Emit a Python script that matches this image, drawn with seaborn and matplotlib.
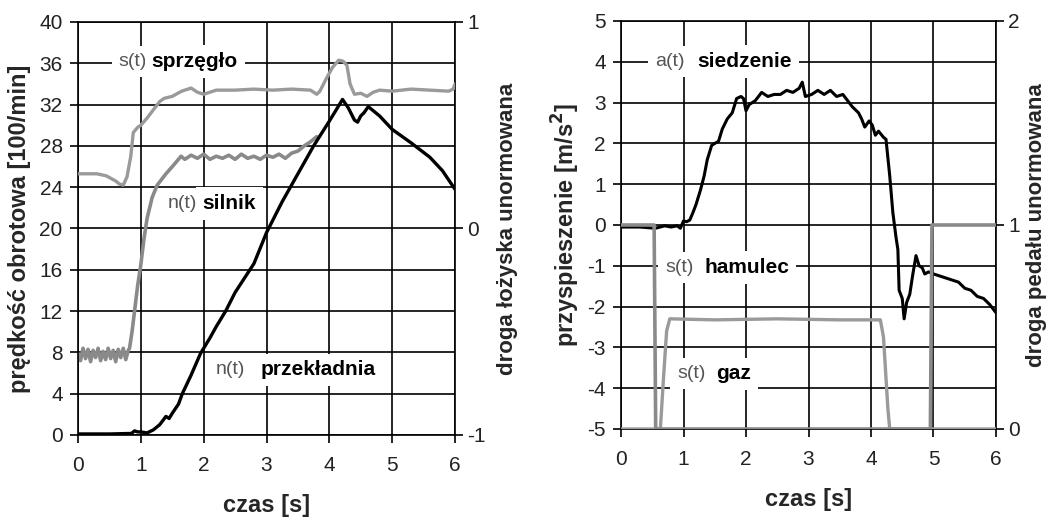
import matplotlib
matplotlib.use("Agg")
import matplotlib.pyplot as plt
import seaborn as sns
import pandas as pd

# ---------------- left panel: rotational speeds and clutch travel ----------------
t_gearbox = [0.0, 0.5, 0.85, 0.9, 0.95, 1.0, 1.1, 1.2, 1.3, 1.4, 1.45, 1.5, 1.6, 1.66,
             1.8, 1.95, 2.1, 2.2, 2.35, 2.5, 2.65, 2.8, 3.0, 3.25, 3.5, 3.75, 4.0,
             4.1, 4.21, 4.3, 4.4, 4.45, 4.5, 4.55, 4.62, 4.8, 5.0, 5.3, 5.6, 5.8, 6.0]
n_gearbox = [0.1, 0.1, 0.15, 0.4, 0.3, 0.3, 0.2, 0.5, 1.0, 1.8, 1.6, 2.1, 3.0, 4.0,
             5.8, 7.9, 9.4, 10.5, 12.0, 13.8, 15.2, 16.6, 19.6, 22.6, 25.3, 28.0, 30.4,
             31.4, 32.5, 31.7, 30.5, 30.3, 30.9, 31.2, 31.8, 30.9, 29.6, 28.3, 26.9, 25.6, 23.8]

t_engine = [0.0, 0.04, 0.08, 0.12, 0.16, 0.2, 0.24, 0.28, 0.32, 0.36, 0.4, 0.44, 0.48,
            0.52, 0.56, 0.6, 0.64, 0.68, 0.72, 0.76, 0.8, 0.82, 0.86, 0.9, 0.95, 1.0,
            1.05, 1.1, 1.18, 1.26, 1.4, 1.53, 1.64, 1.7, 1.8, 1.9, 2.0, 2.1, 2.2, 2.3,
            2.4, 2.5, 2.6, 2.7, 2.8, 2.9, 3.0, 3.1, 3.2, 3.3, 3.4, 3.5, 3.6, 3.7, 3.8]
n_engine = [7.9, 7.2, 8.4, 7.4, 8.3, 7.1, 8.2, 7.5, 8.4, 7.2, 8.1, 7.3, 8.4,
            7.4, 8.2, 7.1, 8.3, 7.5, 8.4, 7.3, 8.2, 8.4, 10.0, 12.0, 14.5, 16.5,
            19.0, 21.0, 23.0, 24.2, 25.3, 26.2, 27.0, 26.7, 27.1, 26.8, 27.2, 26.7,
            27.0, 26.8, 27.1, 26.7, 27.2, 26.8, 27.0, 26.7, 27.1, 26.9, 27.2, 26.8,
            27.3, 27.5, 28.0, 28.4, 28.9]

# clutch travel, normalised (-1 .. 1)
t_clutch = [0.0, 0.3, 0.45, 0.6, 0.66, 0.72, 0.78, 0.84, 0.88, 0.95, 1.0, 1.1, 1.2,
            1.3, 1.37, 1.5, 1.65, 1.8, 1.9, 2.0, 2.2, 2.5, 2.8, 3.1, 3.4, 3.7, 3.8,
            3.85, 3.95, 4.05, 4.15, 4.22, 4.28, 4.33, 4.4, 4.5, 4.6, 4.7, 4.8, 5.0,
            5.3, 5.6, 5.9, 5.97, 6.0]
s_clutch = [0.265, 0.265, 0.255, 0.23, 0.215, 0.21, 0.25, 0.35, 0.465, 0.49, 0.5,
            0.535, 0.575, 0.615, 0.63, 0.64, 0.665, 0.68, 0.66, 0.65, 0.67, 0.67,
            0.675, 0.67, 0.675, 0.67, 0.65, 0.665, 0.725, 0.78, 0.815, 0.81, 0.79,
            0.70, 0.65, 0.655, 0.64, 0.66, 0.67, 0.665, 0.675, 0.67, 0.665, 0.675, 0.70]

# ---------------- right panel: seat acceleration and pedal travel ----------------
t_seat = [0.0, 0.3, 0.55, 0.7, 0.8, 0.9, 0.95, 1.0, 1.05, 1.1, 1.15, 1.2, 1.27, 1.33,
          1.38, 1.45, 1.5, 1.56, 1.62, 1.7, 1.78, 1.85, 1.92, 1.96, 2.0, 2.05, 2.15,
          2.25, 2.35, 2.45, 2.55, 2.65, 2.75, 2.85, 2.9, 2.95, 3.05, 3.15, 3.25, 3.35,
          3.45, 3.55, 3.6, 3.7, 3.8, 3.85, 3.9, 3.97, 4.02, 4.07, 4.12, 4.2, 4.24,
          4.3, 4.35, 4.4, 4.43, 4.45, 4.5, 4.53, 4.57, 4.62, 4.67, 4.72, 4.77, 4.82,
          4.86, 4.92, 5.0, 5.1, 5.2, 5.3, 5.4, 5.5, 5.6, 5.7, 5.8, 5.9, 6.0]
a_seat = [-0.05, -0.05, -0.08, -0.02, -0.05, -0.02, -0.08, 0.1, 0.08, 0.12, 0.3, 0.5,
          0.85, 1.2, 1.6, 1.95, 2.0, 2.05, 2.35, 2.6, 2.75, 3.1, 3.15, 3.1, 2.8, 2.95,
          3.05, 3.25, 3.15, 3.2, 3.2, 3.3, 3.25, 3.35, 3.5, 3.15, 3.2, 3.3, 3.2, 3.3,
          3.15, 3.2, 3.1, 2.9, 2.75, 2.6, 2.4, 2.55, 2.45, 2.2, 2.3, 2.15, 2.1,
          1.2, 0.3, -0.3, -0.6, -1.6, -1.8, -2.3, -1.9, -1.7, -1.2, -0.75, -1.0, -1.05,
          -1.2, -1.15, -1.2, -1.25, -1.3, -1.35, -1.4, -1.55, -1.6, -1.75, -1.8, -1.95, -2.15]

# pedal travel, normalised (0 .. 2)
t_brake = [0.0, 0.53, 0.555, 4.95, 4.975, 6.0]
s_brake = [1.0, 1.0, 0.0, 0.0, 1.0, 1.0]
t_gas = [0.0, 0.63, 0.68, 0.73, 0.78, 1.5, 2.5, 3.5, 4.15, 4.2, 4.27, 4.3, 6.0]
s_gas = [0.0, 0.0, 0.25, 0.48, 0.54, 0.535, 0.54, 0.535, 0.535, 0.45, 0.1, 0.0, 0.0]

x_ticks = [0, 1, 2, 3, 4, 5, 6]
speed_ticks = [0, 4, 8, 12, 16, 20, 24, 28, 32, 36, 40]
bearing_ticks = [-1, 0, 1]
accel_ticks = [-5, -4, -3, -2, -1, 0, 1, 2, 3, 4, 5]
pedal_ticks = [0, 1, 2]

sns.set_style("white")
plt.rcParams["font.family"] = ["Liberation Sans", "DejaVu Sans"]
plt.rcParams["axes.unicode_minus"] = False

BLACK = "#000000"
GREY = "#9a9a9a"
GREY_DARK = "#8a8a8a"
TXT = "#222222"

fig = plt.figure(figsize=(10.56, 5.19), dpi=100)
W, H = 1056, 519
ax1 = fig.add_axes([78 / W, 1 - 435 / H, (455 - 78) / W, (435 - 22) / H])
ax2 = fig.add_axes([621 / W, 1 - 429 / H, (996 - 621) / W, (429 - 21) / H])


def line(ax, t, v, color, lw=2.3):
    df = pd.DataFrame({"t": t, "v": v})
    sns.lineplot(data=df, x="t", y="v", ax=ax, color=color, lw=lw,
                 estimator=None, sort=False, legend=False)


def style_axes(ax, twin, yticks, twin_ticks):
    ax.set_xlim(0, 6)
    ax.set_xticks(x_ticks)
    ax.set_yticks(yticks)
    ax.grid(True, color=BLACK, lw=1.2)
    for sp in ax.spines.values():
        sp.set_color(BLACK)
        sp.set_linewidth(1.2)
    ax.tick_params(axis="both", direction="out", length=6, width=1.2,
                   color=BLACK, labelsize=15, labelcolor=TXT,
                   bottom=True, left=True, pad=5)
    ax.tick_params(axis="x", pad=9)
    twin.set_yticks(twin_ticks)
    twin.tick_params(axis="y", direction="out", length=6, width=1.2,
                     color=BLACK, labelsize=15, labelcolor=TXT, right=True, pad=3)
    for sp in twin.spines.values():
        sp.set_visible(False)
    twin.grid(False)


def tag(ax, ref, x_small, x_bold, y, small, bold):
    box = dict(facecolor="white", edgecolor="none", pad=5)
    ax.text(x_small, y, small, transform=ref.transData, fontsize=14,
            color="#555555", va="center", ha="left", bbox=box, zorder=10)
    ax.text(x_bold, y, bold, transform=ref.transData, fontsize=15,
            fontweight="bold", color=BLACK, va="center", ha="left", bbox=box, zorder=11)


# left panel
ax1t = ax1.twinx()
line(ax1, t_engine, n_engine, GREY_DARK, lw=2.6)
line(ax1, t_gearbox, n_gearbox, BLACK, lw=2.4)
line(ax1t, t_clutch, s_clutch, GREY, lw=2.4)
ax1.set_ylim(0, 40)
ax1t.set_ylim(-1, 1)
style_axes(ax1, ax1t, speed_ticks, bearing_ticks)
ax1.set_xlabel("czas [s]", fontsize=17, fontweight="bold", labelpad=14)
ax1.set_ylabel("prędkość obrotowa [100/min]", fontsize=17, fontweight="bold", labelpad=6)
ax1t.set_ylabel("droga łożyska unormowana", fontsize=16, fontweight="bold", labelpad=8)
tag(ax1t, ax1, 0.65, 1.17, 36.2, "s(t)", "sprzęgło")
tag(ax1t, ax1, 1.43, 1.98, 22.4, "n(t)", "silnik")
tag(ax1t, ax1, 2.19, 2.9, 6.3, "n(t)", "przekładnia")

# right panel
ax2t = ax2.twinx()
line(ax2, t_seat, a_seat, BLACK, lw=2.2)
line(ax2t, t_gas, s_gas, GREY, lw=2.4)
line(ax2t, t_brake, s_brake, GREY_DARK, lw=2.6)
ax2.set_ylim(-5, 5)
ax2t.set_ylim(0, 2)
style_axes(ax2, ax2t, accel_ticks, pedal_ticks)
ax2.set_xlabel("czas [s]", fontsize=17, fontweight="bold", labelpad=14)
ax2.set_ylabel("przyspieszenie [m/s$^\\mathbf{2}$]", fontsize=17, fontweight="bold", labelpad=4)
ax2t.set_ylabel("droga pedału unormowana", fontsize=16, fontweight="bold", labelpad=4)
tag(ax2t, ax2, 0.55, 1.22, 4.0, "a(t)", "siedzenie")
tag(ax2t, ax2, 0.71, 1.33, -1.05, "s(t)", "hamulec")
tag(ax2t, ax2, 0.9, 1.52, -3.65, "s(t)", "gaz")

for a in (ax1, ax1t, ax2, ax2t):
    a.set_xlim(0, 6)
    if a in (ax1t, ax2t):
        a.set_xlabel("")

fig.savefig("out.png", dpi=100)
